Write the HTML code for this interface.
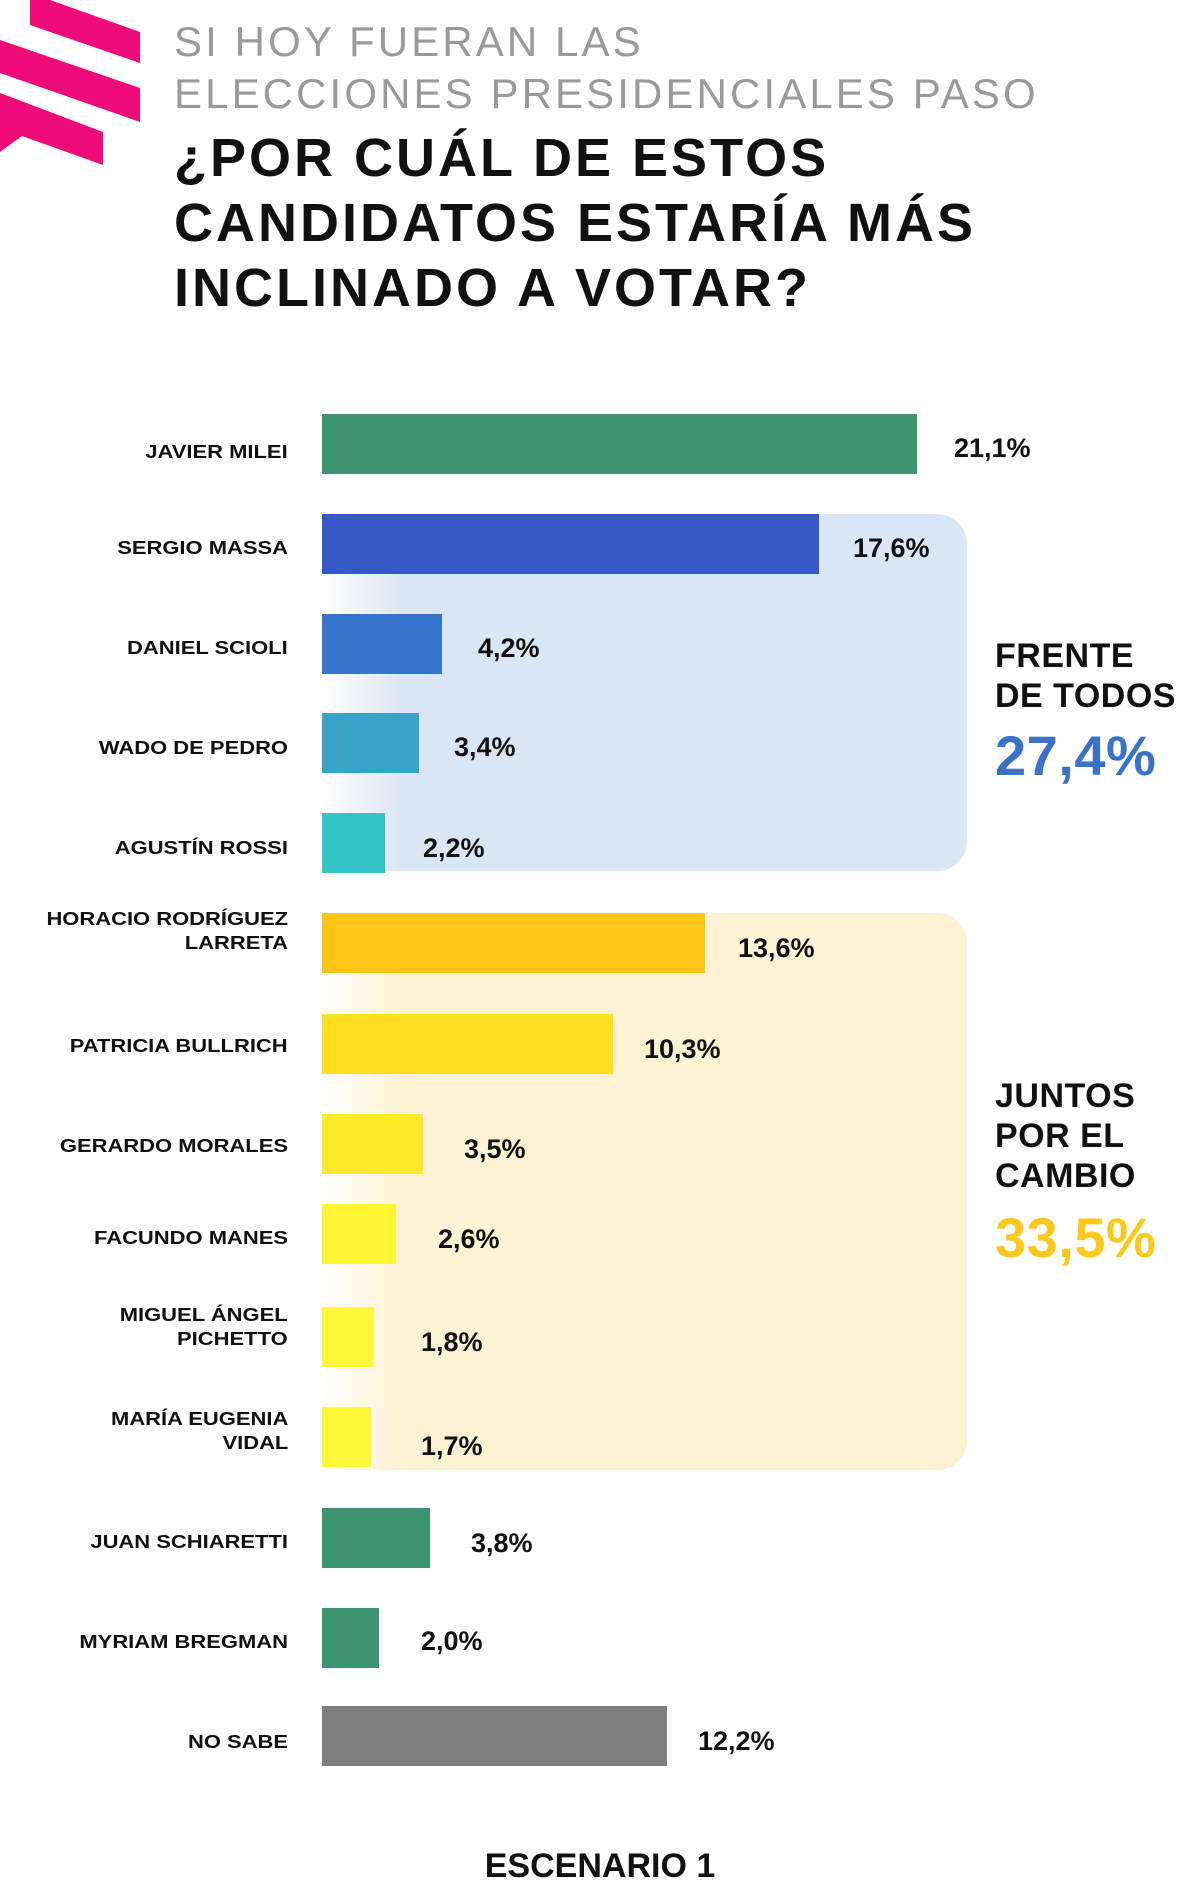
<!DOCTYPE html>
<html><head><meta charset="utf-8"><style>
body{margin:0;background:#fff;width:1200px;height:1890px;position:relative;overflow:hidden;font-family:"Liberation Sans",sans-serif}
div{position:absolute}
.sub{left:174px;color:#9a9a9a;font-size:42px;line-height:52px;letter-spacing:3.1px}
.t{left:174px;color:#111;font-size:54px;font-weight:bold;line-height:65px;letter-spacing:3px}
.lab{right:912px;text-align:right;font-size:18px;font-weight:bold;color:#111;line-height:24px;transform:scaleX(1.22);transform-origin:right center;white-space:nowrap}
.bar{left:322px;height:60px}
.val{font-size:27px;font-weight:bold;color:#111;line-height:30px}
.g{left:995px;font-size:34px;font-weight:bold;color:#111;line-height:40px;letter-spacing:0.5px}
</style></head><body>
<svg width="150" height="200" style="position:absolute;left:0;top:0">
<polygon fill="#ee0a78" points="30,0 50,0 140,32 140,63 30,25"/>
<polygon fill="#ee0a78" points="0,40 140,88 140,122 0,73"/>
<polygon fill="#ee0a78" points="0,93 103,132 103,165 22,136 0,152"/>
</svg>
<div class="sub" style="top:16px">SI HOY FUERAN LAS</div>
<div class="sub" style="top:68px">ELECCIONES PRESIDENCIALES PASO</div>
<div class="t" style="top:126px">¿POR CUÁL DE ESTOS</div>
<div class="t" style="top:191px">CANDIDATOS ESTARÍA MÁS</div>
<div class="t" style="top:256px">INCLINADO A VOTAR?</div>

<div style="left:322px;top:514px;width:645px;height:357px;border-radius:0 30px 30px 0;background:linear-gradient(to right,rgba(219,230,244,0) 0,#dbe6f4 80px)"></div>
<div style="left:322px;top:913px;width:645px;height:557px;border-radius:0 30px 30px 0;background:linear-gradient(to right,rgba(253,242,211,0) 0,#fdf2d3 80px)"></div>

<div class="bar" style="top:414px;width:595px;background:#3d9470"></div>
<div class="bar" style="top:514px;width:497px;background:#3558c4"></div>
<div class="bar" style="top:614px;width:120px;background:#3574c8"></div>
<div class="bar" style="top:713px;width:97px;background:#38a3c6"></div>
<div class="bar" style="top:813px;width:63px;background:#34c6c6"></div>
<div class="bar" style="top:913px;width:383px;background:#fdc516"></div>
<div class="bar" style="top:1014px;width:291px;background:#fee020"></div>
<div class="bar" style="top:1114px;width:101px;background:#feea2a"></div>
<div class="bar" style="top:1204px;width:74px;background:#fff535"></div>
<div class="bar" style="top:1307px;width:52px;background:#fff838"></div>
<div class="bar" style="top:1407px;width:49px;background:#fff838"></div>
<div class="bar" style="top:1508px;width:108px;background:#3d9470"></div>
<div class="bar" style="top:1608px;width:57px;background:#3d9470"></div>
<div class="bar" style="top:1706px;width:345px;background:#808080"></div>

<div class="lab" style="top:440px">JAVIER MILEI</div>
<div class="lab" style="top:536px">SERGIO MASSA</div>
<div class="lab" style="top:636px">DANIEL SCIOLI</div>
<div class="lab" style="top:736px">WADO DE PEDRO</div>
<div class="lab" style="top:836px">AGUSTÍN ROSSI</div>
<div class="lab" style="top:907px">HORACIO RODRÍGUEZ<br>LARRETA</div>
<div class="lab" style="top:1034px">PATRICIA BULLRICH</div>
<div class="lab" style="top:1134px">GERARDO MORALES</div>
<div class="lab" style="top:1226px">FACUNDO MANES</div>
<div class="lab" style="top:1303px">MIGUEL ÁNGEL<br>PICHETTO</div>
<div class="lab" style="top:1407px">MARÍA EUGENIA<br>VIDAL</div>
<div class="lab" style="top:1530px">JUAN SCHIARETTI</div>
<div class="lab" style="top:1630px">MYRIAM BREGMAN</div>
<div class="lab" style="top:1730px">NO SABE</div>

<div class="val" style="left:954px;top:433px">21,1%</div>
<div class="val" style="left:853px;top:533px">17,6%</div>
<div class="val" style="left:478px;top:633px">4,2%</div>
<div class="val" style="left:454px;top:732px">3,4%</div>
<div class="val" style="left:423px;top:833px">2,2%</div>
<div class="val" style="left:738px;top:933px">13,6%</div>
<div class="val" style="left:644px;top:1034px">10,3%</div>
<div class="val" style="left:464px;top:1134px">3,5%</div>
<div class="val" style="left:438px;top:1224px">2,6%</div>
<div class="val" style="left:421px;top:1327px">1,8%</div>
<div class="val" style="left:421px;top:1431px">1,7%</div>
<div class="val" style="left:471px;top:1528px">3,8%</div>
<div class="val" style="left:421px;top:1626px">2,0%</div>
<div class="val" style="left:698px;top:1726px">12,2%</div>

<div class="g" style="top:636px">FRENTE<br>DE TODOS</div>
<div class="g" style="top:726px;font-size:56px;line-height:60px;color:#3a72c8">27,4%</div>
<div class="g" style="top:1076px">JUNTOS<br>POR EL<br>CAMBIO</div>
<div class="g" style="top:1208px;font-size:56px;line-height:60px;color:#fcc81a">33,5%</div>

<div style="left:0;width:1200px;top:1846px;text-align:center;font-size:34px;font-weight:bold;color:#111;line-height:40px">ESCENARIO 1</div>
</body></html>
